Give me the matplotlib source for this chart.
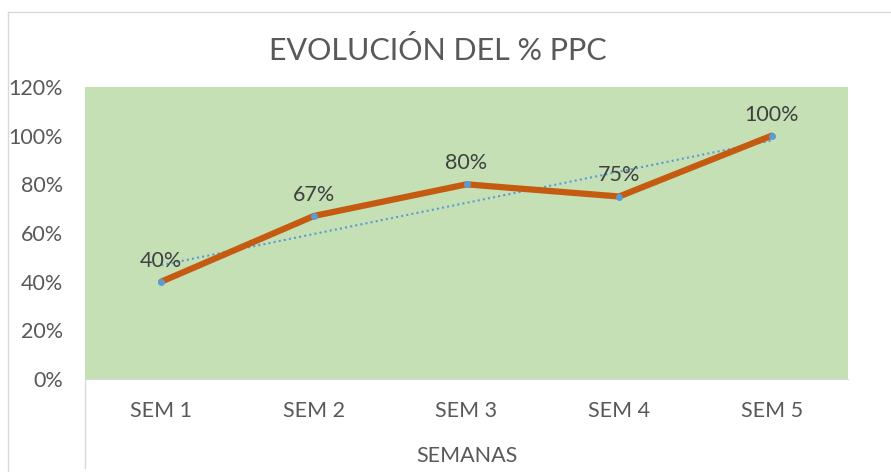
import matplotlib
matplotlib.use("Agg")
import matplotlib.pyplot as plt
from matplotlib.lines import Line2D
import numpy as np

categories = ["SEM 1", "SEM 2", "SEM 3", "SEM 4", "SEM 5"]
ppc = [40, 67, 80, 75, 100]
labels = ["40%", "67%", "80%", "75%", "100%"]
yticks = [0, 20, 40, 60, 80, 100, 120]

plt.rcParams['font.family'] = ['Lato', 'DejaVu Sans']

W, H = 891, 472
fig = plt.figure(figsize=(W/100, H/100), dpi=100)
ax = fig.add_axes([85/W, 1-379/H, 763/W, 292/H])
ax.set_facecolor('#C5E0B4')

x = np.arange(len(categories))
# trendline (linear fit)
coef = np.polyfit(x, ppc, 1)
ax.plot(x, np.polyval(coef, x), linestyle=(0, (1, 1.5)), color='#5B9BD5', lw=1.5, zorder=2)
ax.plot(x, ppc, color='#C55A11', lw=4.5, solid_capstyle='round', zorder=3)
ax.plot(x, ppc, 'o', color='#5B9BD5', ms=5, mew=0, zorder=4)

for xi, v, t in zip(x, ppc, labels):
    ax.annotate(t, (xi, v), xytext=(0, 8), textcoords='offset points',
                ha='center', va='bottom', fontsize=15.5, color='#404040', zorder=5)

ax.set_xlim(-0.5, len(categories)-0.5)
ax.set_ylim(0, 120)
ax.set_yticks(yticks)
ax.set_yticklabels([f"{v}%" for v in yticks])
ax.set_xticks(x)
ax.set_xticklabels(categories)
ax.tick_params(axis='both', length=0, labelsize=15.5, colors='#595959')
ax.tick_params(axis='y', pad=16)
ax.tick_params(axis='x', pad=16)
for s in ['top', 'right', 'left']:
    ax.spines[s].set_visible(False)
ax.spines['bottom'].set_color('#D9D9D9')
ax.set_xlabel("SEMANAS", fontsize=15.5, color='#595959', labelpad=18)

fig.text(438/W, 1-50/H, "EVOLUCIÓN DEL % PPC", ha='center', va='center',
         fontsize=22, color='#595959')

# chart area border
fig.add_artist(Line2D([8/W, 8/W], [1-12/H, 0], transform=fig.transFigure, color='#D9D9D9', lw=1))
fig.add_artist(Line2D([8/W, 1], [1-12/H, 1-12/H], transform=fig.transFigure, color='#D9D9D9', lw=1))
fig.add_artist(Line2D([85/W, 85/W], [1-379/H, 1-468/H], transform=fig.transFigure, color='#D9D9D9', lw=1))

fig.savefig("out.png", dpi=100, facecolor='white')
